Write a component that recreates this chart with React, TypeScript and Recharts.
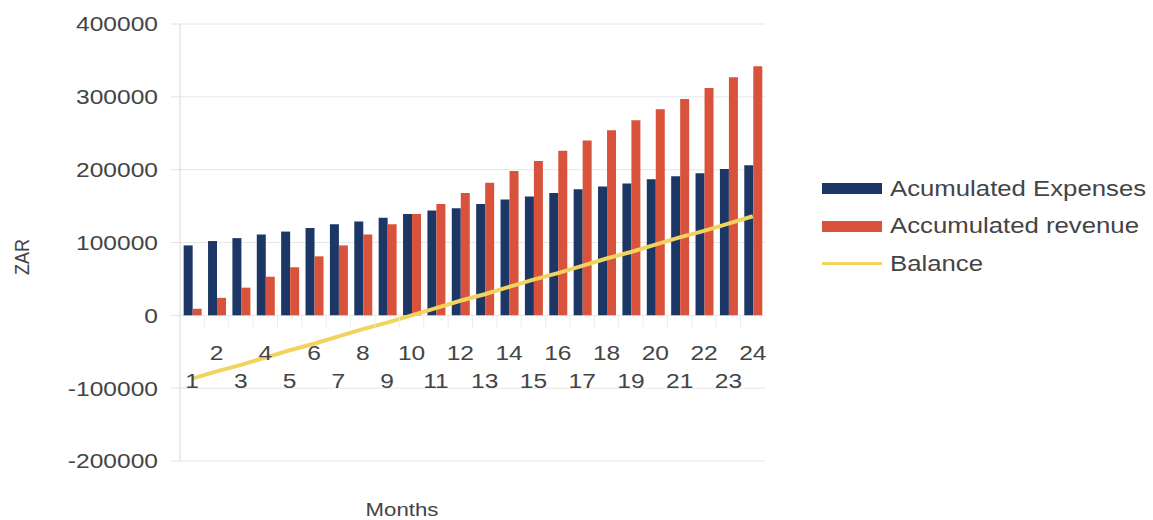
import React from 'react';
import { ComposedChart, Bar, Line, XAxis, YAxis, CartesianGrid, Legend } from 'recharts';

const months = ['1','2','3','4','5','6','7','8','9','10','11','12','13','14','15','16','17','18','19','20','21','22','23','24'];
const expenses = [96000,102000,106000,111000,115000,120000,125000,129000,134000,139000,144000,147000,153000,159000,163000,168000,173000,177000,181000,187000,191000,195000,201000,206000];
const revenue = [9000,24000,38000,53000,66000,81000,96000,111000,125000,139000,153000,168000,182000,198000,212000,226000,240000,254000,268000,283000,297000,312000,327000,342000];
const balance = [-87000,-77000,-68000,-58000,-48000,-39000,-29000,-19000,-10000,0,10000,20000,29000,39000,49000,58000,68000,78000,87000,97000,107000,116000,126000,136000];
const yTicks = [-200000,-100000,0,100000,200000,300000,400000];

const seriesNames = { expenses: 'Acumulated Expenses', revenue: 'Accumulated revenue', balance: 'Balance' };
const COLORS = { expenses: '#1c3766', revenue: '#d9533c', balance: '#f1d35e' };

const data = months.map((m, i) => ({ month: m, expenses: expenses[i], revenue: revenue[i], balance: balance[i] }));

const W = 1153, H = 520;
const TOP = 24, BOTTOM = 461, LEFT = 180, RIGHT = 765;
const FONT = '"Liberation Sans", Arial, sans-serif';
const TXT = '#444';
const SX = 1.17;

const YTick = (props: any) => {
  const { x, y, payload } = props;
  return (
    <g transform={`translate(${x},${y})`}>
      <text transform={`scale(${SX},1)`} textAnchor="end" dy="0.355em" fontSize={21} fontFamily={FONT} fill={TXT}>
        {payload.value}
      </text>
    </g>
  );
};

const zeroY = TOP + (400000 / 600000) * (BOTTOM - TOP);

const XTick = (props: any) => {
  const { x, payload, index } = props;
  const even = index % 2 === 1;
  const ty = even ? zeroY + 37 : zeroY + 65;
  return (
    <g>
      <line x1={x - 12.2} x2={x - 12.2} y1={zeroY} y2={zeroY + 12} stroke="#ececec" />
      <g transform={`translate(${x},${ty})`}>
        <text transform={`scale(${SX},1)`} textAnchor="middle" dy="0.355em" fontSize={21} fontFamily={FONT} fill={TXT}>
          {payload.value}
        </text>
      </g>
    </g>
  );
};

const LegendContent = () => {
  const rows = [
    { key: 'expenses', type: 'rect' },
    { key: 'revenue', type: 'rect' },
    { key: 'balance', type: 'line' },
  ];
  return (
    <div style={{ fontFamily: FONT }}>
      {rows.map((r) => (
        <div key={r.key} style={{ display: 'flex', alignItems: 'center', height: 37.5 }}>
          <div style={{ width: 60, height: 12, display: 'flex', alignItems: 'center' }}>
            <div style={{ width: 60, height: r.type === 'rect' ? 11 : 3, background: (COLORS as any)[r.key] }} />
          </div>
          <div style={{ marginLeft: 8, fontSize: 22, color: TXT, transform: `scaleX(${SX})`, transformOrigin: 'left center', whiteSpace: 'nowrap' }}>
            {(seriesNames as any)[r.key]}
          </div>
        </div>
      ))}
    </div>
  );
};

export default function App() {
  return (
    <div style={{ position: 'absolute', left: 0, top: 0, width: W, height: H, background: '#fff' }}>
      <ComposedChart
        width={W}
        height={H}
        data={data}
        margin={{ top: TOP, right: W - RIGHT, bottom: 0, left: 0 }}
        barCategoryGap="15%"
        barGap={0}
      >
        <CartesianGrid horizontal={true} vertical={false} stroke="#e6e6e6" />
        <YAxis
          width={LEFT}
          domain={[-200000, 400000]}
          ticks={yTicks}
          interval={0}
          tickSize={9}
          tickMargin={13}
          axisLine={{ stroke: '#d9d9d9' }}
          tickLine={{ stroke: '#e2e2e2' }}
          tick={<YTick />}
          label={() => (
            <g transform={`translate(29,257) rotate(-90)`}>
              <text transform={`scale(1,${SX})`} textAnchor="middle" dy="0" fontSize={18} fontFamily={FONT} fill={TXT}>ZAR</text>
            </g>
          )}
        />
        <XAxis
          dataKey="month"
          height={H - BOTTOM}
          axisLine={false}
          tickLine={false}
          interval={0}
          tick={<XTick />}
          label={() => (
            <g transform={`translate(402,516)`}>
              <text transform={`scale(${SX},1)`} textAnchor="middle" fontSize={19} fontFamily={FONT} fill={TXT}>Months</text>
            </g>
          )}
        />
        <Legend
          layout="horizontal"
          verticalAlign="middle"
          align="center"
          content={<LegendContent />}
          wrapperStyle={{ left: 822, top: 170, width: 331 }}
        />
        <Bar dataKey="expenses" name={seriesNames.expenses} fill={COLORS.expenses} isAnimationActive={false} />
        <Bar dataKey="revenue" name={seriesNames.revenue} fill={COLORS.revenue} isAnimationActive={false} />
        <Line type="linear" dataKey="balance" name={seriesNames.balance} stroke={COLORS.balance} strokeWidth={4} dot={false} isAnimationActive={false} />
      </ComposedChart>
    </div>
  );
}
